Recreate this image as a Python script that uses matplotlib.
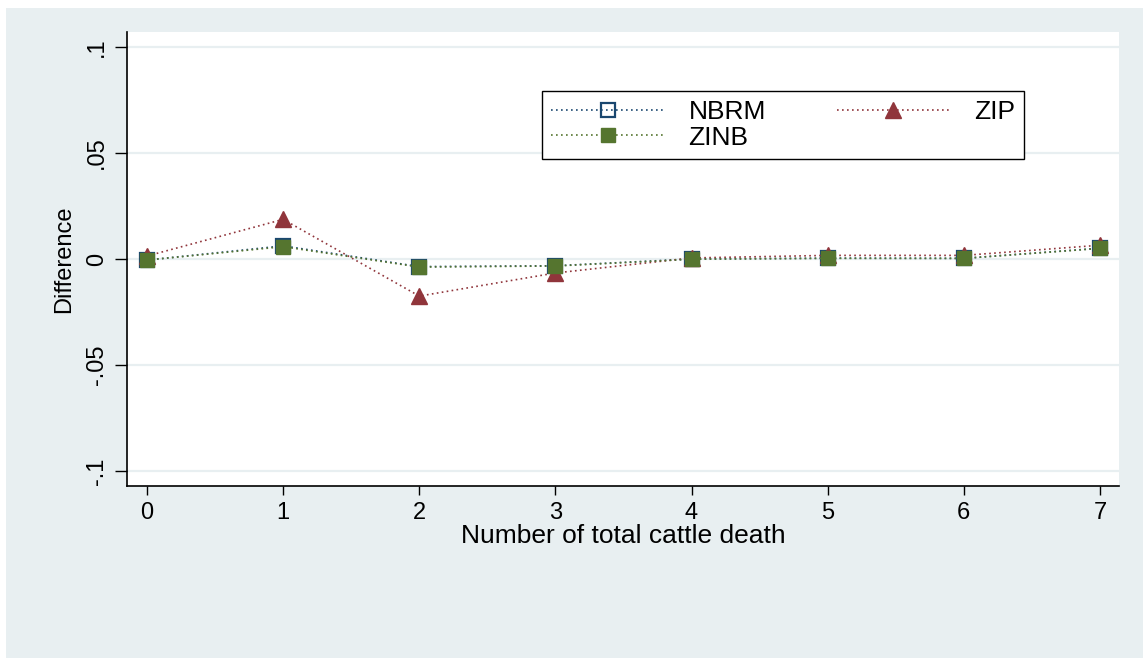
import matplotlib
matplotlib.use("Agg")
import matplotlib.pyplot as plt
from matplotlib.patches import Rectangle

plt.rcParams['font.family'] = ['Liberation Sans', 'DejaVu Sans']

# values
counts = [0, 1, 2, 3, 4, 5, 6, 7]
nbrm = [-0.0005, 0.0062, -0.0036, -0.0032, 0.0, 0.0004, 0.0003, 0.0051]
zip_diff = [0.0014, 0.0187, -0.0175, -0.0066, 0.0005, 0.0017, 0.0017, 0.0065]
zinb = [-0.0005, 0.0058, -0.0038, -0.0033, -0.0001, 0.0003, 0.0003, 0.0050]

y_ticks = [-0.1, -0.05, 0, 0.05, 0.1]
y_ticklabels = ["-.1", "-.05", "0", ".05", ".1"]

navy = "#1a476f"
maroon = "#90353b"
green = "#55752f"
panel = "#e8eff1"

W, H = 1143, 659
fig = plt.figure(figsize=(W / 100, H / 100), dpi=100, facecolor="white")
# stata style graph region
fig.patches.append(Rectangle((6 / W, 1 / H), 1 - 6 / W, (658 - 8) / H,
                             transform=fig.transFigure, facecolor=panel,
                             edgecolor="none", zorder=-10))

ax = fig.add_axes([127 / W, 173 / H, (1119 - 127) / W, (486 - 32) / H])
ax.set_facecolor("white")

dots = (0, (1, 2))
l_nbrm, = ax.plot(counts, nbrm, color=navy, lw=1.2, ls=dots, marker="s", ms=9.5,
                  mfc="none", mec=navy, mew=1.6, label="NBRM", zorder=3)
l_zip, = ax.plot(counts, zip_diff, color=maroon, lw=1.2, ls=dots, marker="^", ms=11,
                 mfc=maroon, mec=maroon, label="ZIP", zorder=4)
l_zinb, = ax.plot(counts, zinb, color=green, lw=1.2, ls=dots, marker="s", ms=9.5,
                  mfc=green, mec=green, label="ZINB", zorder=5)

ax.set_xlim(-0.147, 7.14)
ax.set_ylim(-0.1071, 0.1071)
ax.set_xticks(counts)
ax.set_yticks(y_ticks)
ax.set_yticklabels(y_ticklabels, rotation=90, va="center")

ax.grid(axis="y", color=panel, lw=1.6)
ax.set_axisbelow(True)
for side in ["top", "right"]:
    ax.spines[side].set_visible(False)
for side in ["left", "bottom"]:
    ax.spines[side].set_linewidth(1.2)

ax.tick_params(axis="x", direction="out", length=6.3, width=1, labelsize=17, pad=5)
ax.tick_params(axis="y", direction="out", length=8.5, width=1, labelsize=17, pad=5)

ax.set_xlabel("Number of total cattle death", fontsize=19, labelpad=0)
ax.set_ylabel("Difference", fontsize=17, labelpad=8)

leg = ax.legend(handles=[l_nbrm, l_zinb, l_zip], ncol=2, loc="upper left",
                bbox_to_anchor=(542 / W, (659 - 163) / H, (1024 - 542) / W, 72 / H),
                bbox_transform=fig.transFigure, mode="expand", borderaxespad=0,
                fontsize=19, handlelength=4.3, handletextpad=0.9, labelspacing=0.05,
                borderpad=0.35, numpoints=1, fancybox=False, framealpha=1,
                edgecolor="black")
leg.get_frame().set_linewidth(1.0)

fig.savefig("out.png", dpi=100, facecolor="white")
